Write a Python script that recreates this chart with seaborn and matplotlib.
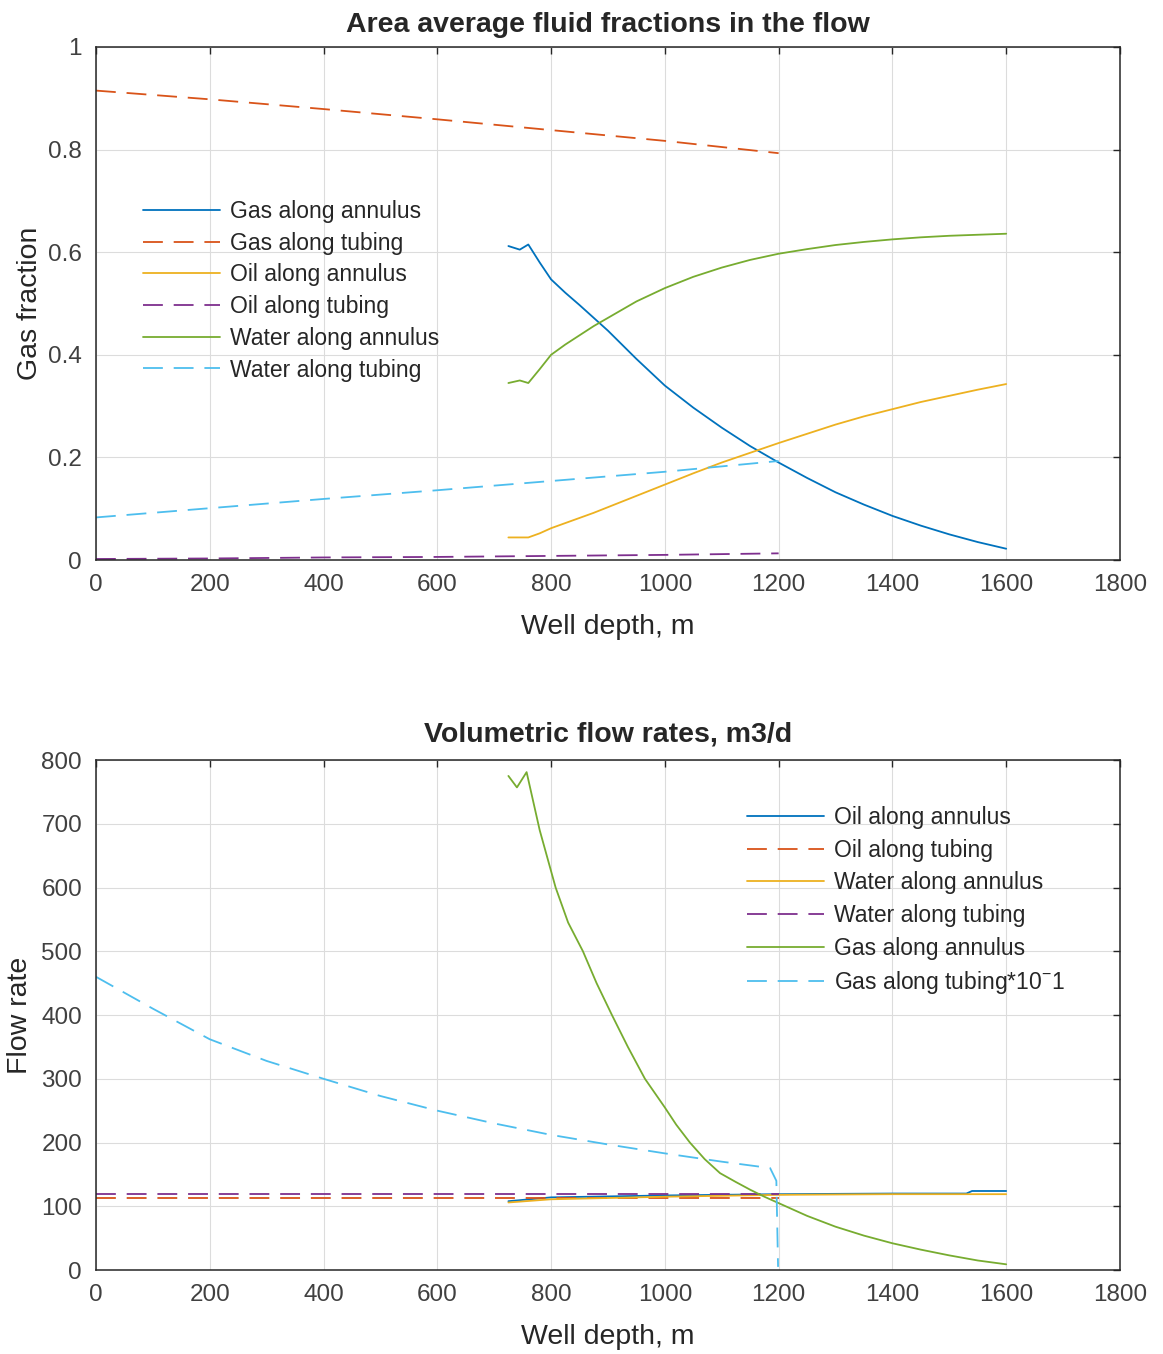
import numpy as np
import pandas as pd
import matplotlib
matplotlib.use("Agg")
import matplotlib.pyplot as plt
import seaborn as sns

# ================= DATA: fluid fractions =================
tub_depth = [0, 200, 400, 600, 800, 1000, 1200]
gas_tubing = [0.915, 0.898, 0.879, 0.859, 0.838, 0.817, 0.793]
oil_tubing = [0.002, 0.003, 0.005, 0.006, 0.008, 0.010, 0.013]
water_tubing = [0.083, 0.101, 0.119, 0.136, 0.154, 0.172, 0.193]

ann_depth = [725, 745, 760, 780, 800, 825, 850, 875, 900, 950, 1000, 1050, 1100,
             1150, 1200, 1250, 1300, 1350, 1400, 1450, 1500, 1550, 1600]
gas_annulus = [0.612, 0.605, 0.615, 0.580, 0.547, 0.521, 0.497, 0.472, 0.447, 0.392,
               0.340, 0.297, 0.258, 0.222, 0.190, 0.160, 0.132, 0.108, 0.086, 0.067,
               0.050, 0.035, 0.022]
oil_annulus = [0.044, 0.044, 0.044, 0.052, 0.062, 0.072, 0.082, 0.092, 0.103, 0.125,
               0.147, 0.169, 0.190, 0.209, 0.228, 0.246, 0.264, 0.280, 0.294, 0.308,
               0.320, 0.332, 0.343]
water_annulus = [0.345, 0.350, 0.345, 0.372, 0.400, 0.420, 0.438, 0.456, 0.472, 0.504,
                 0.530, 0.552, 0.570, 0.585, 0.597, 0.606, 0.614, 0.620, 0.625, 0.629,
                 0.632, 0.634, 0.636]

# ================= DATA: flow rates =================
rate_tub_depth = [0, 50, 100, 200, 300, 400, 500, 600, 700, 800, 900, 1000, 1100, 1185, 1196, 1199]
gas_tubing_rate = [460, 435, 410, 362, 328, 300, 273, 250, 230, 212, 197, 183, 170, 160, 140, 5]
oil_tubing_depth = [0, 1200]
oil_tubing_rate = [113, 113]
water_tubing_rate = [120, 120]

rate_ann_depth = [725, 740, 757, 780, 808, 830, 856, 880, 907, 935, 965, 1000, 1020, 1044,
                  1070, 1097, 1125, 1150, 1175, 1200, 1250, 1300, 1350, 1400, 1450, 1500,
                  1550, 1600]
gas_annulus_rate = [775, 757, 781, 690, 600, 545, 500, 450, 400, 350, 300, 255, 228, 200,
                    174, 152, 138, 126, 115, 105, 85, 68, 54, 42, 32, 23, 15, 9]
oil_ann_depth = [725, 800, 1000, 1200, 1400, 1530, 1540, 1600]
oil_annulus_rate = [108, 114, 117, 119, 120, 120, 124, 124]
water_ann_depth = [725, 800, 1000, 1200, 1400, 1600]
water_annulus_rate = [106, 111, 115, 118, 119, 119]

C_BLUE, C_ORANGE, C_YELLOW = "#0072BD", "#D95319", "#EDB120"
C_PURPLE, C_GREEN, C_CYAN = "#7E2F8E", "#77AC30", "#4DBEEE"
DASH = (0, (11, 6))
LW = 1.3

sns.set_theme(style="whitegrid")
plt.rcParams["font.family"] = ["Liberation Sans", "DejaVu Sans"]
plt.rcParams["mathtext.default"] = "regular"
plt.rcParams["axes.edgecolor"] = "#262626"
plt.rcParams["grid.color"] = "#dcdcdc"
plt.rcParams["grid.linewidth"] = 0.8

fig = plt.figure(figsize=(11.63, 13.54), dpi=100)
ax1 = fig.add_axes([0.0825, 0.5864, 0.8805, 0.3789])
ax2 = fig.add_axes([0.0825, 0.0620, 0.8805, 0.3767])


def draw(ax, x, y, color, label, dashed=False):
    df = pd.DataFrame({"x": x, "y": y})
    kw = dict(linestyle=DASH) if dashed else {}
    sns.lineplot(data=df, x="x", y="y", ax=ax, color=color, lw=LW, label=label, **kw)


# ================= TOP =================
draw(ax1, ann_depth, gas_annulus, C_BLUE, "Gas along annulus")
draw(ax1, tub_depth, gas_tubing, C_ORANGE, "Gas along tubing", True)
draw(ax1, ann_depth, oil_annulus, C_YELLOW, "Oil along annulus")
draw(ax1, tub_depth, oil_tubing, C_PURPLE, "Oil along tubing", True)
draw(ax1, ann_depth, water_annulus, C_GREEN, "Water along annulus")
draw(ax1, tub_depth, water_tubing, C_CYAN, "Water along tubing", True)

ax1.set_ylim(0, 1)
ax1.set_yticks([0, 0.2, 0.4, 0.6, 0.8, 1])
ax1.set_yticklabels(["0", "0.2", "0.4", "0.6", "0.8", "1"])
ax1.set_ylabel("Gas fraction", fontsize=20.5, color="#262626", labelpad=4)
ax1.set_title("Area average fluid fractions in the flow", fontsize=20.5, fontweight="bold", pad=11)
ax1.legend(loc="upper left", bbox_to_anchor=(0.026, 0.742), frameon=False, fontsize=16.5,
           handlelength=3.35, handletextpad=0.45, labelspacing=0.38)

# ================= BOTTOM =================
draw(ax2, oil_ann_depth, oil_annulus_rate, C_BLUE, "Oil along annulus")
draw(ax2, oil_tubing_depth, oil_tubing_rate, C_ORANGE, "Oil along tubing", True)
draw(ax2, water_ann_depth, water_annulus_rate, C_YELLOW, "Water along annulus")
draw(ax2, oil_tubing_depth, water_tubing_rate, C_PURPLE, "Water along tubing", True)
draw(ax2, rate_ann_depth, gas_annulus_rate, C_GREEN, "Gas along annulus")
draw(ax2, rate_tub_depth, gas_tubing_rate, C_CYAN, "Gas along tubing*10$^{-}$1", True)

ax2.set_ylim(0, 800)
ax2.set_yticks(range(0, 801, 100))
ax2.set_ylabel("Flow rate", fontsize=20.5, color="#262626", labelpad=6)
ax2.set_title("Volumetric flow rates, m3/d", fontsize=20.5, fontweight="bold", pad=13)
ax2.legend(loc="upper left", bbox_to_anchor=(0.616, 0.95), frameon=False, fontsize=16.5,
           handlelength=3.35, handletextpad=0.45, labelspacing=0.42)

for ax in (ax1, ax2):
    ax.set_xlim(0, 1800)
    ax.set_xticks(range(0, 1801, 200))
    ax.set_xlabel("Well depth, m", fontsize=20.5, color="#262626", labelpad=13)
    ax.tick_params(direction="in", length=5, width=1, top=True, right=True,
                   labelsize=17.5, labelcolor="#404040", color="#262626", pad=10)
    for s in ax.spines.values():
        s.set_linewidth(1.1)
    ax.grid(True)

fig.savefig("out.png", dpi=100)
